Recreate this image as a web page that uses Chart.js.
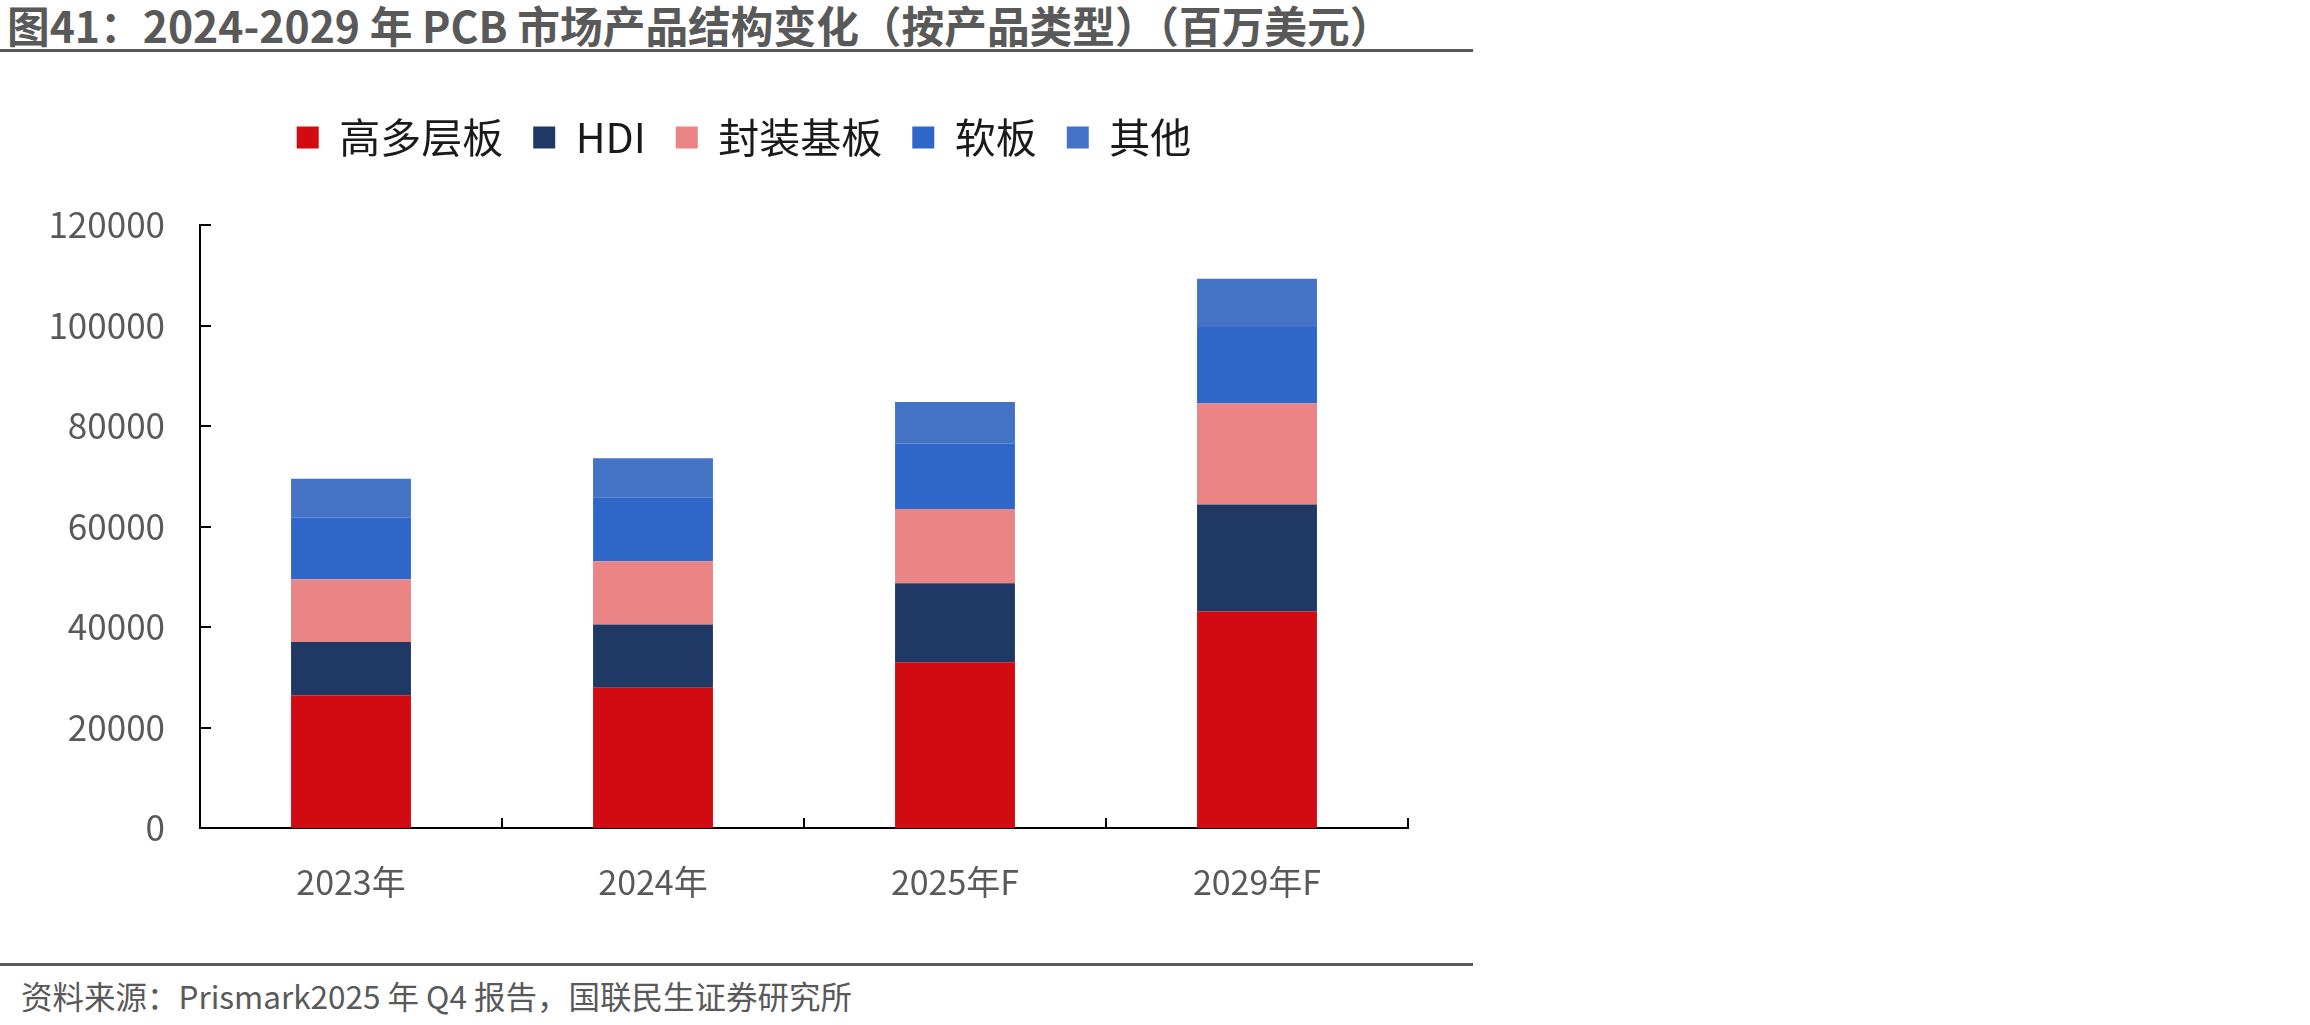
<!DOCTYPE html>
<html lang="zh">
<head>
<meta charset="utf-8">
<script src="https://cdn.jsdelivr.net/npm/chart.js@4.4.1/dist/chart.umd.min.js"></script>
<style>
  html,body{margin:0;padding:0;background:#fff;}
  body{width:2310px;height:1025px;position:relative;overflow:hidden;font-family:"Noto Sans CJK SC","Noto Sans",sans-serif;}
  #titulo{position:absolute;left:7px;top:0;font-size:42.7px;line-height:48px;font-weight:bold;color:#595959;white-space:nowrap;}
  .raya{position:absolute;left:0;width:1473px;height:3px;background:#595959;}
  #fuente{position:absolute;left:21px;top:976px;font-size:31.5px;line-height:38px;color:#595959;white-space:nowrap;}
  #wrap{position:absolute;left:0;top:60px;width:1473px;height:900px;}
</style>
</head>
<body>
<div id="titulo">图41：2024-2029 年 PCB 市场产品结构变化（按产品类型）（百万美元）</div>
<div class="raya" style="top:49px"></div>
<div id="wrap"><canvas id="pcbChart"></canvas></div>
<div class="raya" style="top:963px"></div>
<div id="fuente">资料来源：Prismark2025 年 Q4 报告，国联民生证券研究所</div>

<script>
// datos (millones USD)
const anios = ['2023年','2024年','2025年F','2029年F'];
const multicapa = [26400, 27900, 33000, 43100];
const hdi = [10600, 12600, 15700, 21300];
const sustrato = [12500, 12600, 14800, 20100];
const flexible = [12300, 12600, 13000, 15200];
const otros = [7700, 7900, 8300, 9600];
const ticksY = [0, 20000, 40000, 60000, 80000, 100000, 120000];

const series = [
  {label:'高多层板', data:multicapa, color:'#D20A11'},
  {label:'HDI', data:hdi, color:'#203864'},
  {label:'封装基板', data:sustrato, color:'#EB8585'},
  {label:'软板', data:flexible, color:'#2F67C9'},
  {label:'其他', data:otros, color:'#4472C4'}
];

// marcas de eje hacia dentro
const marcasEje = {
  id:'marcasEje',
  afterDraw(chart){
    const c = chart.ctx, x = chart.scales.x, y = chart.scales.y, a = chart.chartArea;
    c.save();
    c.strokeStyle = '#000';
    c.lineWidth = 2;
    c.beginPath();
    ticksY.forEach(v=>{
      const py = Math.round(y.getPixelForValue(v));
      c.moveTo(a.left, py);
      c.lineTo(a.left + 11, py);
    });
    for(let i=0;i<anios.length;i++){
      const px = i < anios.length-1
        ? (x.getPixelForValue(i) + x.getPixelForValue(i+1))/2
        : a.right;
      c.moveTo(Math.round(px), a.bottom);
      c.lineTo(Math.round(px), a.bottom - 10);
    }
    c.stroke();
    c.restore();
  }
};

// leyenda: mas espacio abajo y centrada sobre el area del grafico
const ajusteLeyenda = {
  id:'ajusteLeyenda',
  beforeInit(chart){
    const lg = chart.legend;
    const fitOrig = lg.fit;
    lg.fit = function(){
      fitOrig.bind(lg)();
      this.height += 57;
    };
    const drawOrig = lg.draw;
    lg.draw = function(){
      const c = chart.ctx;
      c.save();
      c.translate(40, 0);
      drawOrig.bind(lg)();
      c.restore();
    };
  }
};

new Chart(document.getElementById('pcbChart'),{
  type:'bar',
  data:{
    labels:anios,
    datasets:series.map(s=>({
      label:s.label,
      data:s.data,
      backgroundColor:s.color,
      borderWidth:0,
      categoryPercentage:1,
      barPercentage:0.397
    }))
  },
  options:{
    responsive:true,
    maintainAspectRatio:false,
    animation:false,
    layout:{padding:{top:27,right:65,bottom:0,left:0}},
    plugins:{
      legend:{
        display:true,
        position:'top',
        labels:{
          boxWidth:22,
          boxHeight:22,
          padding:30,
          color:'#1a1a1a',
          font:{family:'"Noto Sans CJK SC"',size:41}
        }
      },
      tooltip:{enabled:false}
    },
    scales:{
      x:{
        stacked:true,
        grid:{display:false,drawTicks:false},
        border:{display:true,color:'#000',width:2},
        ticks:{color:'#595959',padding:34,font:{family:'"Noto Sans CJK SC"',size:34}},
        afterFit(s){ s.height = 132; }
      },
      y:{
        stacked:true,
        min:0,
        max:120000,
        grid:{display:false,drawTicks:false},
        border:{display:true,color:'#000',width:2},
        ticks:{
          stepSize:20000,
          color:'#595959',
          padding:35,
          font:{family:'"Noto Sans CJK SC"',size:35},
          callback:v=>String(v)
        },
        afterFit(s){ s.width = 200; }
      }
    }
  },
  plugins:[marcasEje, ajusteLeyenda]
});
</script>
</body>
</html>
